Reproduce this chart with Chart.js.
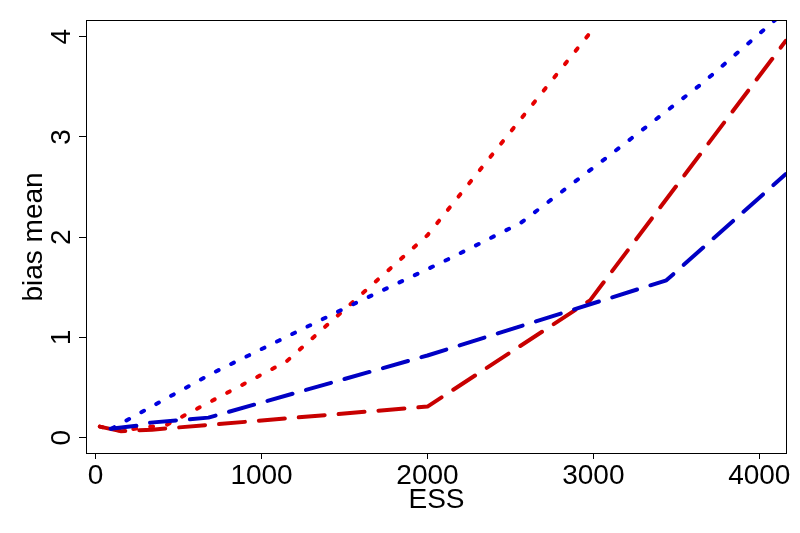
<!DOCTYPE html>
<html>
<head>
<meta charset="utf-8">
<script src="https://cdn.jsdelivr.net/npm/chart.js@4/dist/chart.umd.min.js"></script>
<style>
  html, body { margin: 0; padding: 0; background: #fff; }
  #wrap { width: 800px; height: 533px; }
</style>
</head>
<body>
<div id="wrap"><canvas id="chart"></canvas></div>
<script>
// tick labels
const xTicks = [0, 1000, 2000, 3000, 4000];
const yTicks = [0, 1, 2, 3, 4];

// series (x = ESS, y = bias mean)
const redDotX = [25, 150, 430, 1150, 2000, 3000];
const redDotY = [0.11, 0.07, 0.13, 0.76, 2.02, 4.08];

const redDashX = [25, 150, 340, 2000, 2980, 4160];
const redDashY = [0.11, 0.065, 0.08, 0.31, 1.37, 3.96];

const blueDotX = [96, 700, 1500, 2100, 2560, 3100, 3660, 4160];
const blueDotY = [0.09, 0.64, 1.29, 1.76, 2.14, 2.82, 3.54, 4.26];

const blueDashX = [90, 250, 330, 680, 2000, 3440, 4160];
const blueDashY = [0.09, 0.12, 0.15, 0.2, 0.82, 1.57, 2.63];

const FONT = '"Liberation Sans", Arial, sans-serif';

function pts(xs, ys) {
    return xs.map((x, i) => ({ x: x, y: ys[i] }));
}

function line(xs, ys, color, dash, order) {
    return {
        data: pts(xs, ys),
        borderColor: color,
        borderWidth: 4,
        borderDash: dash,
        borderCapStyle: 'round',
        borderJoinStyle: 'round',
        pointRadius: 0,
        fill: false,
        tension: 0,
        clip: 0,
        order: order
    };
}

// frame, rotated y labels and axis titles
const decor = {
    id: 'decor',
    afterDatasetsDraw(chart) {
        const { ctx, chartArea: a, scales } = chart;
        ctx.save();
        ctx.strokeStyle = '#000';
        ctx.lineWidth = 1;
        ctx.strokeRect(a.left - 0.5, a.top - 0.5, a.right - a.left + 1, a.bottom - a.top + 1);

        ctx.fillStyle = '#000';
        ctx.font = '28px ' + FONT;
        ctx.textAlign = 'center';
        ctx.textBaseline = 'alphabetic';
        yTicks.forEach(v => {
            const py = scales.y.getPixelForValue(v);
            ctx.save();
            ctx.translate(70, py);
            ctx.rotate(-Math.PI / 2);
            ctx.fillText(String(v), 0, 0);
            ctx.restore();
        });

        ctx.save();
        ctx.translate(42, (a.top + a.bottom) / 2);
        ctx.rotate(-Math.PI / 2);
        ctx.fillText('bias mean', 0, 0);
        ctx.restore();

        ctx.fillText('ESS', (a.left + a.right) / 2, 508);
        ctx.restore();
    }
};

new Chart(document.getElementById('chart'), {
    type: 'line',
    data: {
        datasets: [
            line(redDotX, redDotY, '#e60000', [3, 14], 4),
            line(redDashX, redDashY, '#c80000', [26, 14], 3),
            line(blueDotX, blueDotY, '#0000e0', [3, 14], 2),
            line(blueDashX, blueDashY, '#0000c4', [26, 14], 1)
        ]
    },
    options: {
        responsive: true,
        maintainAspectRatio: false,
        animation: false,
        layout: { padding: { top: 21, right: 14, left: 0, bottom: 0 } },
        plugins: {
            legend: { display: false },
            tooltip: { enabled: false }
        },
        scales: {
            x: {
                type: 'linear',
                min: -52,
                max: 4161,
                afterBuildTicks: s => { s.ticks = xTicks.map(v => ({ value: v })); },
                afterFit: s => { s.height = 80; },
                border: { display: false },
                grid: { drawOnChartArea: false, color: '#000', tickLength: 6 },
                ticks: {
                    color: '#000',
                    font: { family: FONT, size: 28 },
                    padding: 0,
                    maxRotation: 0,
                    autoSkip: false,
                    callback: v => String(v)
                }
            },
            y: {
                type: 'linear',
                min: -0.153,
                max: 4.157,
                afterBuildTicks: s => { s.ticks = yTicks.map(v => ({ value: v })); },
                afterFit: s => { s.width = 87; },
                border: { display: false },
                grid: { drawOnChartArea: false, color: '#000', tickLength: 8 },
                ticks: { display: false }
            }
        }
    },
    plugins: [decor]
});
</script>
</body>
</html>
